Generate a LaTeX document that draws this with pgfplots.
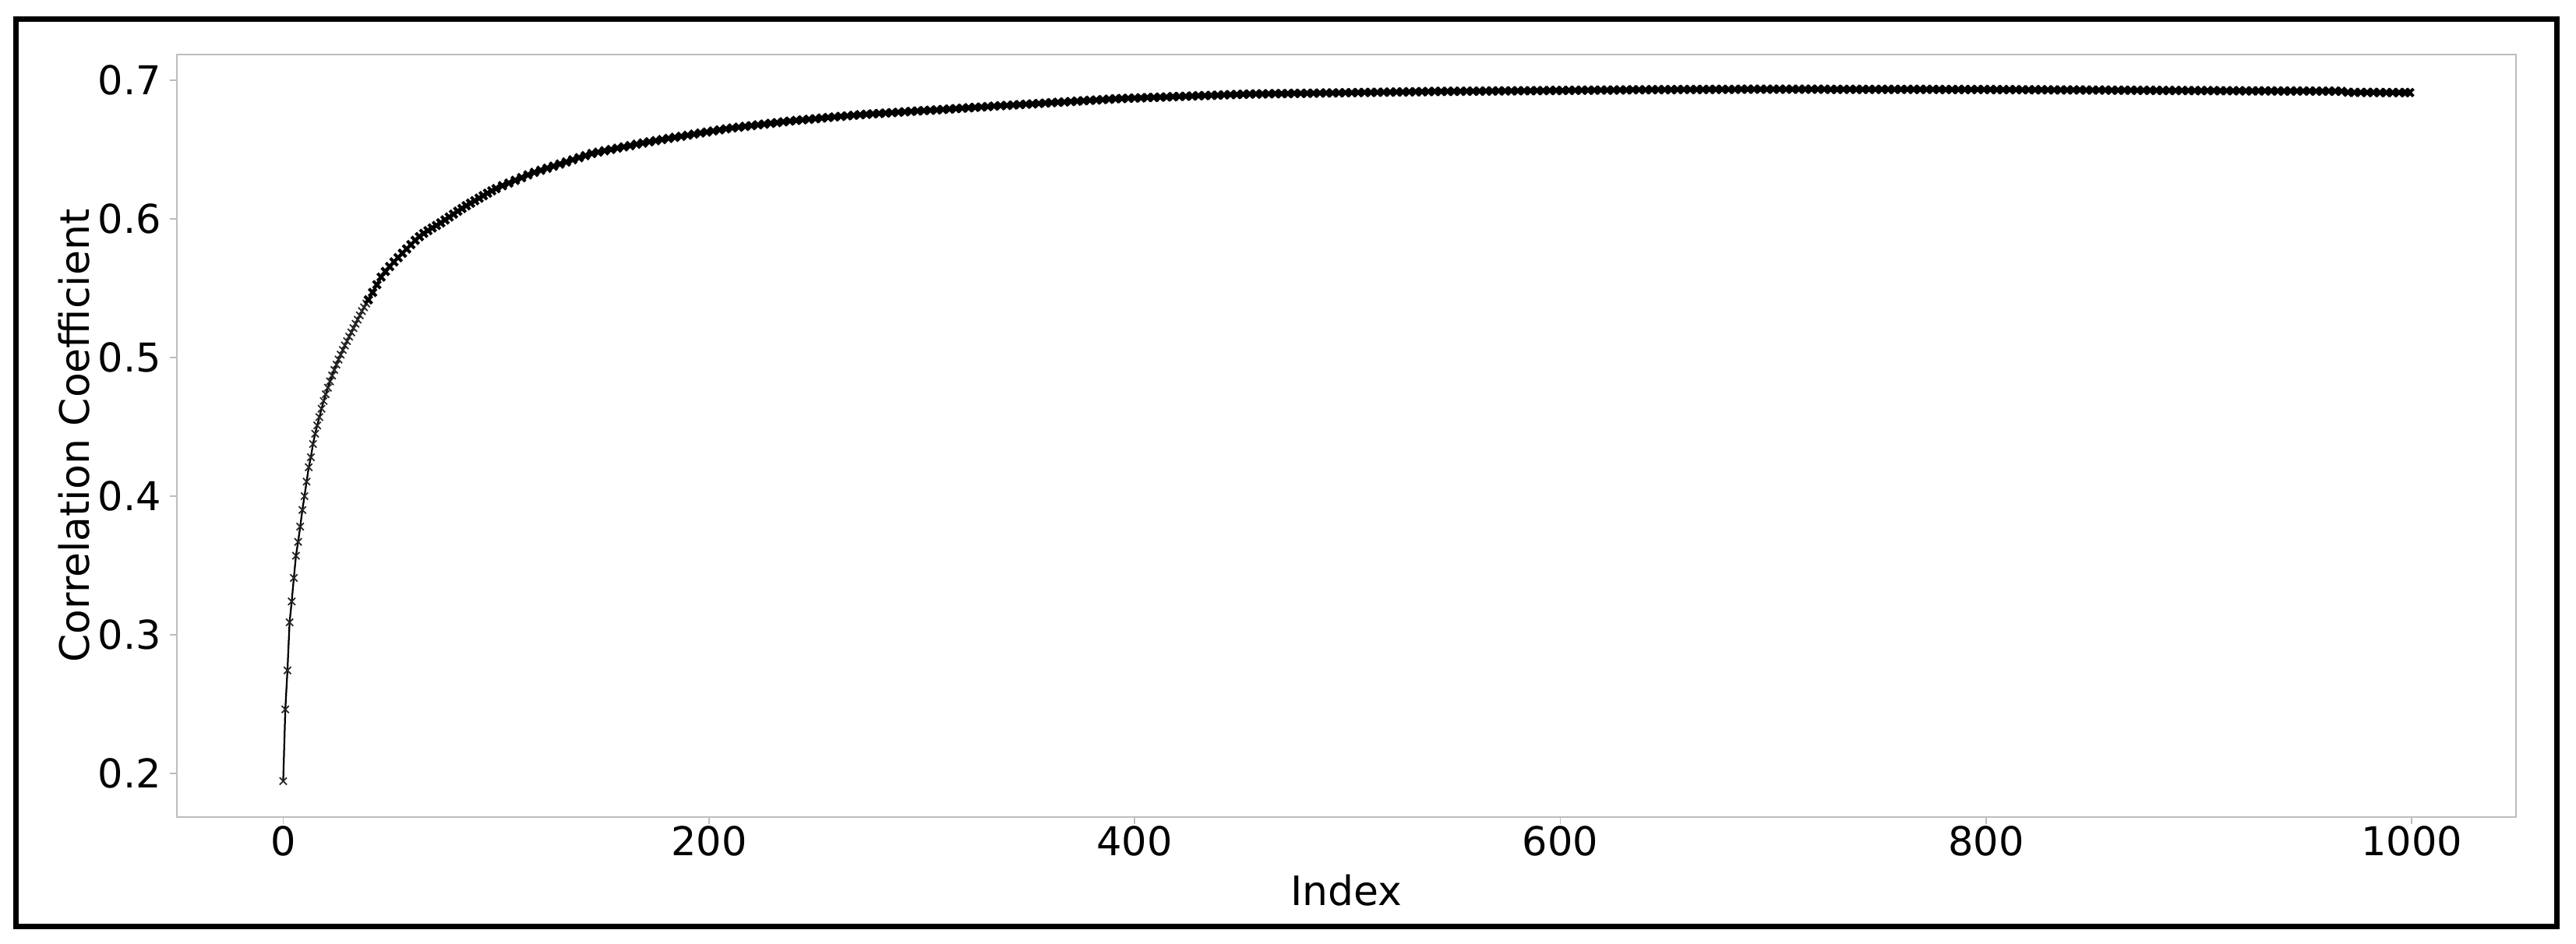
\documentclass[border=0pt]{standalone}
\usepackage{fontspec}
\setmainfont{DejaVu Sans}
\usepackage{pgfplots}
\usepackage{pgfplotstable}
\pgfplotsset{compat=1.18}
\definecolor{spine}{rgb}{0.74,0.74,0.74}
\pgfplotstableread{
x y
0 0.1944
1 0.2462
2 0.2743
3 0.3090
4 0.3240
5 0.3410
6 0.3570
7 0.3670
8 0.3780
9 0.3900
10 0.4000
11 0.4105
12 0.4208
13 0.4280
14 0.4376
15 0.4450
16 0.4510
17 0.4570
18 0.4630
19 0.4686
20 0.4735
21 0.4782
22 0.4828
23 0.4870
24 0.4910
25 0.4948
26 0.4985
27 0.5020
28 0.5054
29 0.5087
30 0.5118
31 0.5150
32 0.5181
33 0.5212
34 0.5243
35 0.5273
36 0.5304
37 0.5335
38 0.5362
39 0.5389
40 0.5416
42 0.5469
44 0.5525
46 0.5580
48 0.5620
50 0.5656
52 0.5689
54 0.5720
56 0.5752
58 0.5783
60 0.5814
62 0.5845
64 0.5872
66 0.5895
68 0.5915
70 0.5934
72 0.5952
74 0.5971
76 0.5992
78 0.6013
80 0.6034
82 0.6055
84 0.6075
86 0.6095
88 0.6113
90 0.6131
92 0.6149
94 0.6167
96 0.6185
98 0.6202
100 0.6218
103 0.6239
106 0.6258
109 0.6278
112 0.6297
115 0.6317
118 0.6335
121 0.6350
124 0.6365
127 0.6380
130 0.6395
133 0.6410
136 0.6426
139 0.6441
142 0.6456
145 0.6471
148 0.6481
151 0.6491
154 0.6500
157 0.6510
160 0.6519
163 0.6528
166 0.6538
169 0.6547
172 0.6556
175 0.6564
178 0.6572
181 0.6580
184 0.6588
187 0.6595
190 0.6603
193 0.6611
196 0.6619
199 0.6626
202 0.6634
205 0.6642
208 0.6649
211 0.6656
214 0.6661
217 0.6667
220 0.6672
223 0.6678
226 0.6683
229 0.6689
232 0.6694
235 0.6700
238 0.6705
241 0.6710
244 0.6714
247 0.6718
250 0.6722
253 0.6727
256 0.6731
259 0.6735
262 0.6739
265 0.6743
268 0.6747
271 0.6751
274 0.6754
277 0.6757
280 0.6760
283 0.6763
286 0.6766
289 0.6769
292 0.6772
295 0.6775
298 0.6778
301 0.6781
304 0.6783
307 0.6786
310 0.6789
313 0.6792
316 0.6795
319 0.6798
322 0.6801
325 0.6804
328 0.6807
331 0.6810
334 0.6813
337 0.6816
340 0.6818
343 0.6821
346 0.6824
349 0.6827
352 0.6829
355 0.6832
358 0.6835
361 0.6838
364 0.6841
367 0.6843
370 0.6846
373 0.6849
376 0.6852
379 0.6855
382 0.6857
385 0.6860
388 0.6863
391 0.6866
394 0.6868
397 0.6870
400 0.6871
403 0.6873
406 0.6875
409 0.6876
412 0.6878
415 0.6879
418 0.6881
421 0.6883
424 0.6884
427 0.6886
430 0.6888
433 0.6889
436 0.6891
439 0.6892
442 0.6894
445 0.6896
448 0.6897
451 0.6899
454 0.6900
457 0.6901
460 0.6901
463 0.6902
466 0.6903
469 0.6903
472 0.6904
475 0.6905
478 0.6905
481 0.6906
484 0.6906
487 0.6907
490 0.6908
493 0.6908
496 0.6909
499 0.6910
502 0.6910
505 0.6911
508 0.6912
511 0.6912
514 0.6913
517 0.6914
520 0.6914
523 0.6915
526 0.6915
529 0.6916
532 0.6917
535 0.6917
538 0.6918
541 0.6919
544 0.6919
547 0.6920
550 0.6920
553 0.6920
556 0.6921
559 0.6921
562 0.6921
565 0.6922
568 0.6922
571 0.6923
574 0.6923
577 0.6923
580 0.6924
583 0.6924
586 0.6924
589 0.6925
592 0.6925
595 0.6926
598 0.6926
601 0.6926
604 0.6927
607 0.6927
610 0.6928
613 0.6928
616 0.6928
619 0.6929
622 0.6929
625 0.6929
628 0.6930
631 0.6930
634 0.6931
637 0.6931
640 0.6931
643 0.6932
646 0.6932
649 0.6932
652 0.6932
655 0.6933
658 0.6933
661 0.6933
664 0.6933
667 0.6933
670 0.6934
673 0.6934
676 0.6934
679 0.6934
682 0.6934
685 0.6935
688 0.6935
691 0.6935
694 0.6935
697 0.6935
700 0.6935
703 0.6935
706 0.6935
709 0.6935
712 0.6935
715 0.6935
718 0.6935
721 0.6935
724 0.6935
727 0.6934
730 0.6934
733 0.6934
736 0.6934
739 0.6934
742 0.6934
745 0.6934
748 0.6934
751 0.6934
754 0.6934
757 0.6934
760 0.6934
763 0.6934
766 0.6934
769 0.6934
772 0.6934
775 0.6934
778 0.6933
781 0.6933
784 0.6933
787 0.6933
790 0.6933
793 0.6933
796 0.6933
799 0.6933
802 0.6933
805 0.6932
808 0.6932
811 0.6932
814 0.6932
817 0.6931
820 0.6931
823 0.6931
826 0.6931
829 0.6931
832 0.6930
835 0.6930
838 0.6930
841 0.6930
844 0.6930
847 0.6929
850 0.6929
853 0.6929
856 0.6929
859 0.6928
862 0.6928
865 0.6928
868 0.6928
871 0.6927
874 0.6927
877 0.6927
880 0.6927
883 0.6926
886 0.6926
889 0.6926
892 0.6926
895 0.6925
898 0.6925
901 0.6925
904 0.6925
907 0.6925
910 0.6924
913 0.6924
916 0.6924
919 0.6924
922 0.6923
925 0.6923
928 0.6923
931 0.6923
934 0.6923
937 0.6922
940 0.6922
943 0.6922
946 0.6922
949 0.6922
952 0.6922
955 0.6921
958 0.6921
961 0.6921
964 0.6921
967 0.6920
970 0.6913
973 0.6912
976 0.6912
979 0.6912
982 0.6912
985 0.6911
988 0.6911
991 0.6911
994 0.6911
997 0.6911
999 0.6911
}\corrdata
\begin{document}
\begin{tikzpicture}
\useasboundingbox (-45.4pt,-32.4pt) rectangle (615.8pt,209.8pt);
\fill[white] (-45.4pt,-32.4pt) rectangle (615.8pt,209.8pt);
\draw[line width=1.4pt] (-41.3pt,-28.1pt) rectangle (610.9pt,204.9pt);
\begin{axis}[
  at={(0pt,0pt)}, anchor=south west,
  scale only axis, width=600.4pt, height=195.8pt,
  xmin=-49.95, xmax=1048.95, ymin=0.1685, ymax=0.7185,
  axis line style={draw=spine, line width=0.5pt},
  tick style={draw=spine, line width=0.35pt},
  major tick length=1.8pt, tick align=outside,
  xtick pos=bottom, ytick pos=left,
  xtick={0,200,400,600,800,1000},
  xticklabels={0,200,400,600,800,1000},
  ytick={0.2,0.3,0.4,0.5,0.6,0.7},
  yticklabels={0.2,0.3,0.4,0.5,0.6,0.7},
  ticklabel style={font=\fontsize{10.2}{12}\selectfont, inner sep=0pt},
  xticklabel style={anchor=north, yshift=-0.4pt},
  yticklabel style={anchor=east, xshift=-2.0pt},
  xlabel={Index}, ylabel={Correlation Coefficient},
  label style={font=\fontsize{10.4}{12}\selectfont, inner sep=0pt},
  xlabel style={at={(axis description cs:0.5,-0.1154)}, anchor=base},
  ylabel style={at={(axis description cs:-0.037,0.5)}, anchor=south, rotate=0},
  clip=false,
]
\addplot[black, line width=0.45pt, mark=x, mark size=1.3pt,
  mark options={line width=0.35pt, black!85},
  restrict x to domain=0:40] table {\corrdata};
\addplot[black, line width=0.7pt, mark=x, mark size=1.35pt,
  mark options={line width=0.8pt, black},
  restrict x to domain=40:999] table {\corrdata};
\end{axis}
\end{tikzpicture}
\end{document}
